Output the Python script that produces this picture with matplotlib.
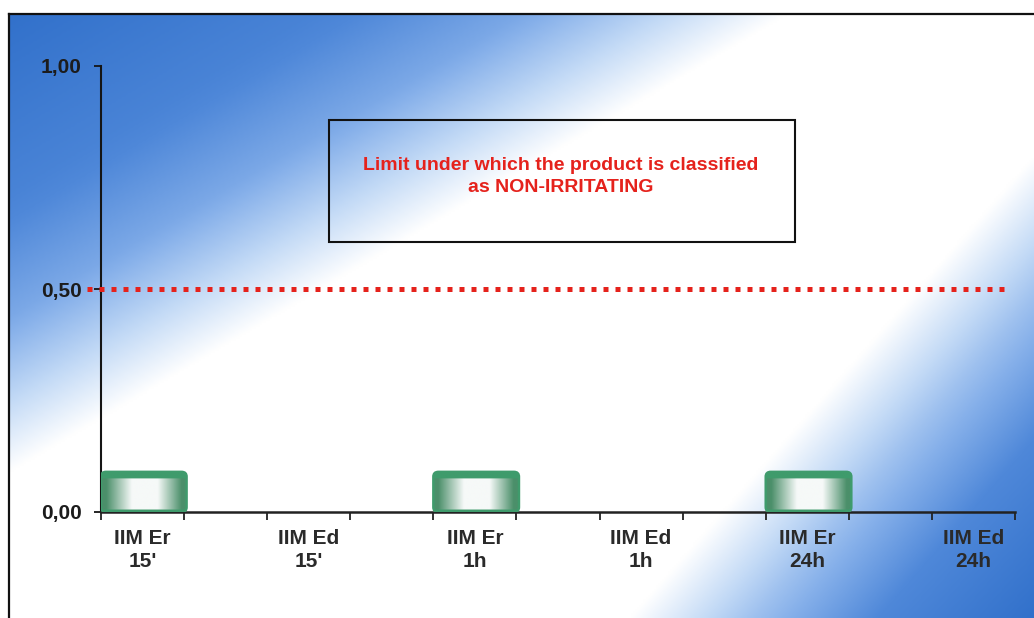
import numpy as np
import matplotlib
matplotlib.use("Agg")
import matplotlib.pyplot as plt
from matplotlib.colors import LinearSegmentedColormap, to_rgb
from matplotlib.patches import FancyBboxPatch, Rectangle

plt.rcParams['font.family'] = ['Liberation Sans', 'DejaVu Sans']

# data
groups = ["IIM Er\n15'", "IIM Ed\n15'", "IIM Er\n1h", "IIM Ed\n1h", "IIM Er\n24h", "IIM Ed\n24h"]
values = [0.09, 0.0, 0.09, 0.0, 0.09, 0.0]
limit = 0.50
y_ticks = [0.0, 0.5, 1.0]
y_labels = ["0,00", "0,50", "1,00"]
n_slots = 11  # excel category slots, every other one labelled
note = "Limit under which the product is classified\nas NON-IRRITATING"

W, H = 1034, 618
fig = plt.figure(figsize=(W / 100, H / 100), dpi=100, facecolor="white")

# background panel: blue in the top-left and bottom-right corners, white band between
bg = fig.add_axes([9 / W, 0, 1 - 9 / W, 1 - 14 / H], zorder=0)
gx, gy = np.meshgrid(np.linspace(0, 1, 500), np.linspace(0, 1, 300))
s1 = gx + gy
s2 = 0.66 * gx + 0.34 * gy
f1 = np.interp(s1, [0, 0.3, 0.5, 0.62, 0.76], [1.0, 0.8, 0.55, 0.3, 0.0])
f2 = np.interp(s2, [0.74, 0.82, 0.9, 1.0], [0.0, 0.4, 0.75, 1.0])
blue_cmap = LinearSegmentedColormap.from_list("bg", [
    (0.0, "#ffffff"), (0.25, "#c3daf6"), (0.5, "#86b0ea"), (0.75, "#4f88d9"),
    (1.0, "#3271cb")])
bg.imshow(np.maximum(f1, f2), cmap=blue_cmap, aspect="auto", extent=[0, 1, 1, 0],
          vmin=0, vmax=1, interpolation="bilinear")
bg.set_xlim(0, 1)
bg.set_ylim(1, 0)
bg.set_xticks([])
bg.set_yticks([])
for side in ["right", "bottom"]:
    bg.spines[side].set_visible(False)
for side in ["left", "top"]:
    bg.spines[side].set_linewidth(1.6)
    bg.spines[side].set_color("#111111")

ax = fig.add_axes([101 / W, 1 - 512 / H, 914 / W, 446 / H], zorder=2)
ax.set_facecolor("none")
ax.set_xlim(0, n_slots)
ax.set_ylim(0, 1)

# bars: rounded, green rim, horizontal green-white-green shading
green = np.array(to_rgb("#3f9b6c"))
shade = np.array(to_rgb("#4b8f6a"))
white = np.array(to_rgb("#f6f9f8"))
u = np.linspace(0, 1, 200)
w = np.interp(u, [0, 0.06, 0.36, 0.66, 0.94, 1], [0, 0, 1, 1, 0, 0])
row = shade[None, :] * (1 - w[:, None]) + white[None, :] * w[:, None]
img = np.repeat(row[None, :, :], 50, axis=0)
img[:9] = green  # solid top band
img[-3:] = green

for i, v in enumerate(values):
    if v <= 0:
        continue
    x0 = i * 2
    patch = FancyBboxPatch((x0, 0), 1.03, v, boxstyle="round,pad=0,rounding_size=0.06",
                           mutation_aspect=0.18, facecolor="none",
                           edgecolor="#3f9b6c", linewidth=1.8, zorder=4)
    ax.add_patch(patch)
    im = ax.imshow(img, extent=[x0, x0 + 1.03, 0, v], aspect="auto", zorder=3,
                   interpolation="bilinear")
    im.set_clip_path(patch)

# limit line
ax.axhline(limit, xmin=-0.015, xmax=0.995, color="#e5221c", linewidth=3.6,
           linestyle=(0, (1, 1.4)), dash_capstyle="butt", clip_on=False, zorder=5)

# note box
ax.add_patch(Rectangle((0.249, 0.605), 0.51, 0.274, transform=ax.transAxes,
                       facecolor="none", edgecolor="#111111", linewidth=1.5, zorder=5))
ax.text(0.503, 0.752, note, transform=ax.transAxes, ha="center", va="center",
        color="#e5221c", fontsize=14, fontweight="bold", linespacing=1.4, zorder=6)

# axes styling
for side in ["top", "right"]:
    ax.spines[side].set_visible(False)
ax.spines["left"].set_linewidth(1.5)
ax.spines["left"].set_color("#151515")
ax.spines["bottom"].set_linewidth(1.8)
ax.spines["bottom"].set_color("#222222")

ax.set_yticks(y_ticks)
ax.set_yticklabels(y_labels, fontsize=15, fontweight="bold", color="#1c1c1c")
ax.tick_params(axis="y", direction="out", length=5, width=1.3, pad=9, color="#151515")

ax.set_xticks(np.arange(n_slots + 1))
ax.set_xticklabels([])
ax.tick_params(axis="x", which="major", direction="out", length=6, width=1.3, color="#222222")
ax.set_xticks([2 * i + 0.5 for i in range(len(groups))], minor=True)
ax.set_xticklabels(groups, minor=True, fontsize=15, fontweight="bold", color="#2a2a2a",
                   linespacing=1.3)
ax.tick_params(axis="x", which="minor", length=0, pad=12)

fig.savefig("out.png", dpi=100, facecolor="white")
